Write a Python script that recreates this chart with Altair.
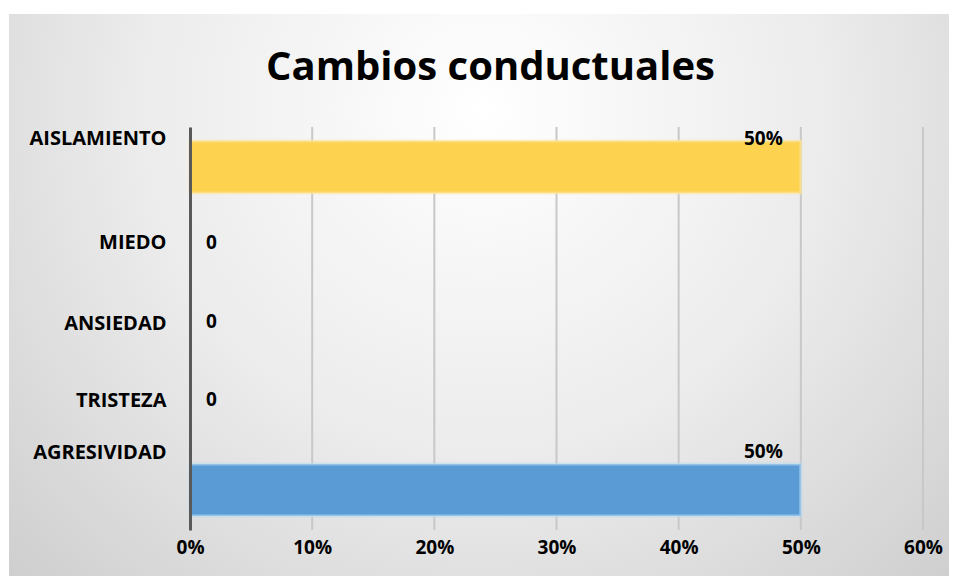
import altair as alt
import pandas as pd

categories = ["AGRESIVIDAD", "TRISTEZA", "ANSIEDAD", "MIEDO", "AISLAMIENTO"]
values = [0.5, 0.0, 0.0, 0.0, 0.5]
bar_colors = ["#5b9bd5", "#a5a5a5", "#70ad47", "#ed7d31", "#fdd24f"]
x_ticks = [0, 0.1, 0.2, 0.3, 0.4, 0.5, 0.6]

df = pd.DataFrame({"cat": categories, "v": values})
order = list(reversed(categories))
FONT = "Open Sans"

W, H = 733, 403

bg = alt.Chart(alt.Data(values=[{}])).mark_rect(
    fill=alt.RadialGradient(
        gradient="radial", x1=0.5, y1=0.3, r1=0.0, x2=0.5, y2=0.3, r2=0.8,
        stops=[alt.GradientStop(offset=0, color="#ffffff"),
               alt.GradientStop(offset=0.45, color="#ececec"),
               alt.GradientStop(offset=1, color="#c6c6c6")]),
    clip=False,
).encode(x=alt.value(-181), x2=alt.value(767), y=alt.value(-113), y2=alt.value(457))

yscale = alt.Scale(domain=order, paddingInner=0.356, paddingOuter=0.173)
xscale = alt.Scale(domain=[0, 0.6], nice=False)

grid = alt.Chart(pd.DataFrame({"t": x_ticks[1:]})).mark_rule(
    color="#c8c8c8", strokeWidth=2).encode(x=alt.X("t:Q", scale=xscale))

base = alt.Chart(df)

bars = base.mark_bar(strokeWidth=3, strokeOpacity=0.6).encode(
    x=alt.X("v:Q", scale=xscale, axis=alt.Axis(
        values=x_ticks, format=".0%", title=None, domain=False, ticks=False,
        grid=False, zindex=1, labelFlush=False,
        labelFont=FONT, labelFontWeight="bold", labelFontSize=19, labelColor="#000000",
        labelPadding=8)),
    y=alt.Y("cat:N", sort=order, scale=yscale, axis=alt.Axis(
        title=None, ticks=False, domainColor="#595959", domainWidth=3, zindex=1,
        labelFont=FONT, labelFontWeight="bold", labelFontSize=20, labelColor="#000000",
        labelPadding=24, labelLimit=300,
        labelOffset={"condition": [
            {"test": "datum.value == 'AGRESIVIDAD'", "value": -37},
            {"test": "datum.value == 'AISLAMIENTO'", "value": -28},
            {"test": "datum.value == 'TRISTEZA'", "value": -8}],
            "value": -5})),
    color=alt.Color("cat:N", scale=alt.Scale(domain=categories, range=bar_colors), legend=None),
    stroke=alt.Stroke("cat:N", scale=alt.Scale(domain=categories,
        range=["#bcdcf4", "transparent", "transparent", "transparent", "#fbe6a2"]), legend=None),
)

lbl_pos = base.transform_filter("datum.v > 0").transform_calculate(
    lab="format(datum.v, '.0%')",
    off="datum.cat == 'AGRESIVIDAD' ? -12 : -2",
).mark_text(align="right", dx=-18, font=FONT, fontWeight="bold", fontSize=19, color="#000000").encode(
    x=alt.X("v:Q", scale=xscale), y=alt.Y("cat:N", sort=order, scale=yscale),
    yOffset=alt.YOffset("off:Q", scale=None), text="lab:N")

lbl_zero = base.transform_filter("datum.v == 0").transform_calculate(
    off="datum.cat == 'TRISTEZA' ? 17 : (datum.cat == 'ANSIEDAD' ? 20 : 21)",
).mark_text(align="left", dx=16, font=FONT, fontWeight="bold", fontSize=19, color="#000000").encode(
    x=alt.X("v:Q", scale=xscale), y=alt.Y("cat:N", sort=order, scale=yscale),
    yOffset=alt.YOffset("off:Q", scale=None), text=alt.value("0"))

chart = alt.layer(bg, grid, bars, lbl_pos, lbl_zero).properties(
    width=W, height=H,
    title=alt.TitleParams("Cambios conductuales", font=FONT, fontSize=40, fontWeight="bold",
                          color="#000000", anchor="middle", frame="group", dx=-66, dy=40,
                          baseline="alphabetic", offset=-66),
    autosize=alt.AutoSizeParams(type="none"),
    padding={"left": 182, "top": 119, "right": 26, "bottom": 46},
    background="#ffffff",
).configure_view(stroke=None)

chart.save("out.html", embed_options={"renderer": "svg", "actions": False})
